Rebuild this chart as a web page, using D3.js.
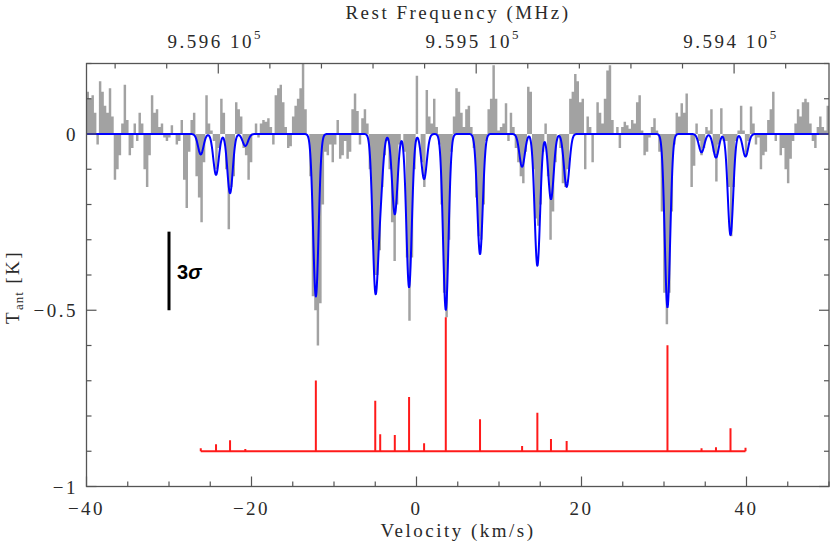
<!DOCTYPE html>
<html><head><meta charset="utf-8">
<script src="https://cdn.jsdelivr.net/npm/d3@7"></script>
<style>body{margin:0;background:#fff}</style>
</head><body><svg id="c" width="830" height="541"></svg>
<script>
// ---- data ----
const chanStart = -40, chanWidth = 0.3;
const spectrum = [
 0.12,0.10,0.11,0.06,-0.03,0.15,0.12,0.08,0.06,0.13,
 0.05,-0.13,-0.10,-0.06,0.03,0.14,0.04,-0.06,-0.04,0.03,
 -0.02,0.06,0.03,-0.10,-0.15,-0.06,0.11,0.06,0.07,0.02,
 0.03,-0.01,-0.02,-0.01,0.025,0.00,-0.03,-0.02,0.04,-0.13,
 -0.21,-0.05,0.04,0.06,-0.12,-0.18,-0.25,-0.08,0.11,0.03,
 0.01,-0.02,-0.10,-0.04,0.10,0.06,-0.10,-0.27,-0.15,-0.12,
 0.09,0.07,0.05,-0.04,-0.06,-0.13,-0.08,0.00,0.03,-0.01,
 0.03,0.04,0.035,0.045,0.02,-0.03,0.11,0.13,0.14,0.09,
 0.02,-0.04,-0.035,0.05,0.08,0.10,0.13,0.20,0.07,0.00,
 -0.12,-0.46,-0.50,-0.60,-0.48,-0.20,-0.05,-0.06,-0.03,-0.08,
 -0.03,0.04,-0.07,-0.06,-0.02,-0.07,-0.05,0.07,0.115,0.065,
 -0.03,0.045,0.07,0.03,-0.10,-0.30,-0.40,-0.40,-0.33,-0.15,
 -0.06,-0.02,-0.10,-0.25,-0.36,-0.20,-0.03,0.00,-0.05,-0.35,
 -0.53,-0.35,-0.10,0.165,0.00,-0.08,-0.15,0.125,0.05,0.03,
 0.10,0.02,-0.03,-0.20,-0.45,-0.52,-0.30,-0.05,0.05,0.13,
 0.12,0.06,0.02,0.07,0.08,0.02,-0.04,-0.18,-0.29,-0.30,
 -0.20,-0.02,0.07,0.10,0.195,0.10,0.01,0.02,0.03,0.087,
 -0.02,0.06,0.02,-0.04,-0.08,-0.12,-0.14,-0.05,0.134,0.12,
 -0.10,-0.24,-0.26,-0.20,-0.05,0.03,-0.12,-0.30,-0.22,-0.08,
 0.00,-0.04,-0.14,-0.15,-0.10,0.10,0.12,0.17,0.15,0.09,
 0.10,-0.10,0.05,0.02,-0.08,0.00,0.09,0.06,0.03,0.10,
 0.18,0.195,0.04,0.00,0.02,-0.04,0.02,0.035,0.025,0.015,
 0.04,0.03,0.09,0.11,0.01,-0.06,-0.05,-0.01,0.02,0.045,
 0.01,-0.05,-0.22,-0.45,-0.54,-0.45,-0.22,-0.03,0.06,0.05,
 0.087,0.06,0.115,0.00,-0.15,-0.09,0.03,-0.02,-0.06,-0.04,
 0.02,0.01,0.07,-0.05,-0.135,-0.03,0.073,-0.02,-0.02,-0.15,
 -0.29,-0.15,-0.02,0.01,0.08,0.01,-0.06,-0.02,0.078,0.03,
 -0.03,-0.01,-0.10,-0.06,-0.05,0.04,0.07,0.12,-0.02,0.00,
 -0.06,-0.04,-0.10,-0.14,-0.07,-0.02,0.03,0.07,0.05,0.09,
 0.10,0.09,0.03,-0.02,-0.04,0.02,0.05,0.02,0.01,0.08
];
const lineVel     = [-26.15,-24.30,-22.60,-20.75,-12.20,-5.00,-4.40,-2.63,-0.90,0.92,3.55,7.70,12.80,14.65,16.30,18.20,30.42,34.55,36.30,38.06,39.88];
const stickHeight = [0.0085,0.020,0.031,0.0065,0.201,0.143,0.048,0.046,0.154,0.023,0.380,0.091,0.015,0.109,0.035,0.029,0.301,0.0085,0.011,0.065,0.010];
const modelDepth  = [0.058,0.116,0.168,0.034,0.461,0.42,0.16,0.228,0.435,0.128,0.499,0.341,0.093,0.374,0.185,0.150,0.492,0.052,0.067,0.287,0.064];
const modelSigma = 0.33;
const stickBase = -0.9;
const velTicks = [-40,-20,0,20,40];
const velTickLabels = ["\u221240","\u221220","0","20","40"];
const tempTicks = [-1,-0.5,0];
const tempTickLabels = ["\u22121","\u22120.5","0"];
const freqTicks = [959600,959500,959400];
const freqTickLabels = ["9.596 10","9.595 10","9.594 10"];
const freqExp = "5";
const freqAtVelEdges = [959651.1,959363.2];
const sigmaBar = {v:-30, top:-0.277, bottom:-0.5, label:"3"};

// ---- drawing ----
const svg = d3.select('#c');
const L=86.5,R=829,T=63.5,B=486.5;
const x = d3.scaleLinear().domain([-40,50]).range([L,R]);
const y = d3.scaleLinear().domain([-1,0.2]).range([B,T]);
const xf = d3.scaleLinear().domain(freqAtVelEdges).range([L,R]);
const serif = "'Liberation Serif', 'Times New Roman', serif";
const txt = '#2a2a2a', axc = '#555';

svg.append('defs').append('clipPath').attr('id','clip')
  .append('rect').attr('x',L).attr('y',T).attr('width',R-L).attr('height',B-T);
const g = svg.append('g').attr('clip-path','url(#clip)');

// gray histogram
const steps = spectrum.map((t,i)=>({v:chanStart+i*chanWidth,t}));
steps.push({v:chanStart+spectrum.length*chanWidth,t:spectrum[spectrum.length-1]});
g.append('path').datum(steps)
  .attr('d',d3.area().x(d=>x(d.v)).y0(y(0)).y1(d=>y(d.t)).curve(d3.curveStepAfter))
  .attr('fill','#a2a2a2');

// model (sum of gaussian components)
const grid = d3.range(-40,50.0001,0.04);
const model = grid.map(v=>({v,t:-d3.sum(lineVel,(c,k)=>modelDepth[k]*Math.exp(-0.5*((v-c)/modelSigma)**2))}));
g.append('path').datum(model)
  .attr('d',d3.line().x(d=>x(d.v)).y(d=>y(d.t)))
  .attr('fill','none').attr('stroke','#0000ff').attr('stroke-width',2).attr('stroke-linejoin','round');

// red stick spectrum
g.append('line').attr('x1',x(lineVel[0])).attr('x2',x(lineVel[lineVel.length-1]))
  .attr('y1',y(stickBase)).attr('y2',y(stickBase)).attr('stroke','#ff1a1a').attr('stroke-width',2);
g.selectAll('.stick').data(lineVel).join('line').attr('class','stick')
  .attr('x1',d=>x(d)).attr('x2',d=>x(d))
  .attr('y1',y(stickBase)).attr('y2',(d,i)=>y(stickBase+stickHeight[i]))
  .attr('stroke','#ff1a1a').attr('stroke-width',2);

// 3 sigma bar
svg.append('line').attr('x1',x(sigmaBar.v)).attr('x2',x(sigmaBar.v))
  .attr('y1',y(sigmaBar.top)).attr('y2',y(sigmaBar.bottom)).attr('stroke','#000').attr('stroke-width',3);
const st = svg.append('text').attr('x',x(sigmaBar.v)+8).attr('y',278.5)
  .attr('font-family',"'Liberation Sans', Arial, sans-serif").attr('font-weight','bold').attr('font-size',20).attr('fill','#000');
st.append('tspan').text(sigmaBar.label);
st.append('tspan').attr('font-style','italic').text('\u03c3');

// frame
svg.append('rect').attr('x',L).attr('y',T).attr('width',R-L).attr('height',B-T)
  .attr('fill','none').attr('stroke',axc).attr('stroke-width',1.3);

// ticks (inward)
const tk = svg.append('g').attr('stroke',axc).attr('stroke-width',1.2);
d3.range(-40,50.001,5).forEach(v=>{
  const len = velTicks.includes(v)?10:5;
  tk.append('line').attr('x1',x(v)).attr('x2',x(v)).attr('y1',B).attr('y2',B-len);
});
d3.range(959380,959641,20).forEach(f=>{
  const len = freqTicks.includes(f)?10:5;
  tk.append('line').attr('x1',xf(f)).attr('x2',xf(f)).attr('y1',T).attr('y2',T+len);
});
d3.range(-10,3,1).map(k=>k/10).forEach(t=>{
  const len = tempTicks.some(m=>Math.abs(m-t)<1e-9)?10:5;
  tk.append('line').attr('x1',L).attr('x2',L+len).attr('y1',y(t)).attr('y2',y(t));
  tk.append('line').attr('x1',R).attr('x2',R-len).attr('y1',y(t)).attr('y2',y(t));
});

// labels
const lab = svg.append('g').attr('font-family',serif).attr('fill',txt).attr('font-size',19).attr('letter-spacing',2.5);
velTicks.forEach((v,i)=>lab.append('text').attr('x',x(v)).attr('y',515).attr('text-anchor','middle').text(velTickLabels[i]));
tempTicks.forEach((t,i)=>lab.append('text').attr('x',78).attr('y',y(t)+7).attr('text-anchor','end').text(tempTickLabels[i]));
freqTicks.forEach((f,i)=>{
  const t = lab.append('text').attr('x',xf(f)-3).attr('y',48).attr('text-anchor','middle');
  t.append('tspan').text(freqTickLabels[i]);
  t.append('tspan').attr('dy',-9).attr('font-size',13).text(freqExp);
});
lab.append('text').attr('x',458).attr('y',537).attr('text-anchor','middle').text('Velocity (km/s)');
lab.append('text').attr('x',458).attr('y',19).attr('text-anchor','middle').text('Rest Frequency  (MHz)');
const yl = lab.append('text').attr('transform','translate(19,287) rotate(-90)').attr('text-anchor','middle');
yl.append('tspan').text('T');
yl.append('tspan').attr('dy',4).attr('font-size',13).attr('letter-spacing',1).text('ant');
yl.append('tspan').attr('dy',-4).text(' [K]');
</script></body></html>
